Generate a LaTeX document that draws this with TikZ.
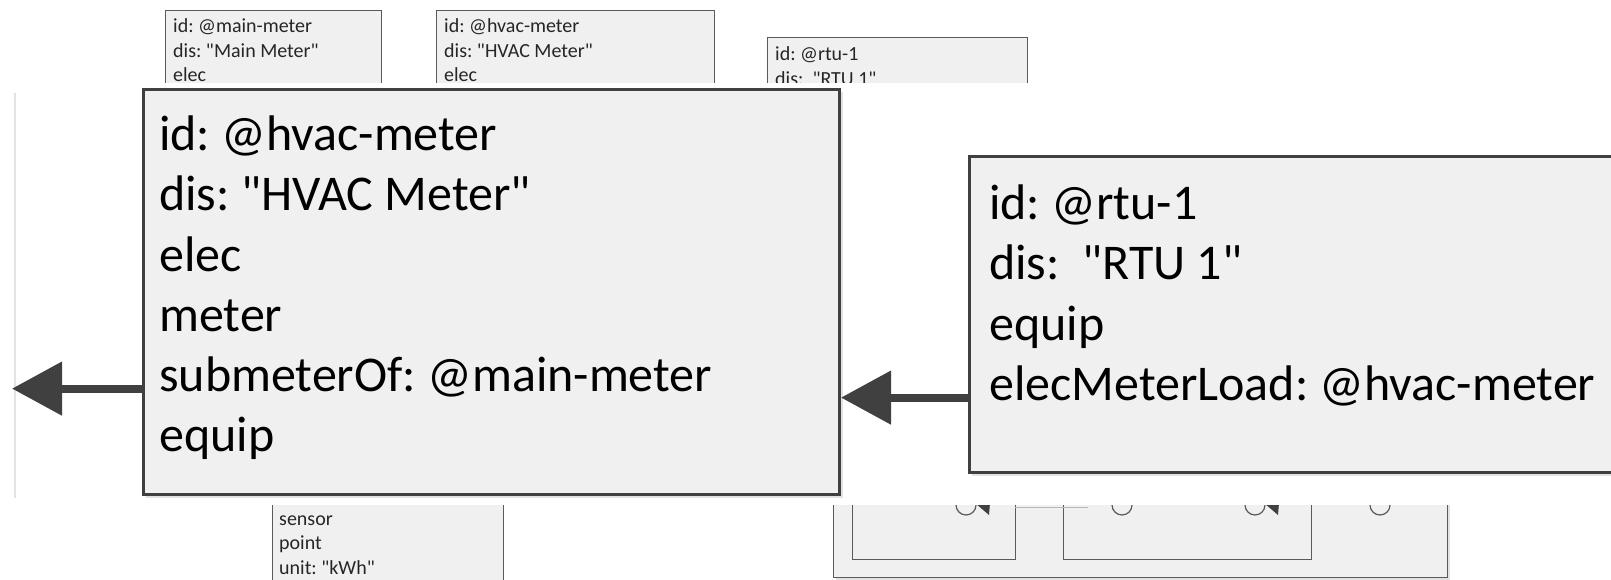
\documentclass[tikz,border=0pt]{standalone}
\usepackage{fontspec}
\setmainfont{Carlito}[Ligatures=TeXOff]
\usetikzlibrary{arrows.meta}
\definecolor{boxfill}{HTML}{F0F0F0}
\definecolor{bigline}{HTML}{404040}
\definecolor{boxline}{HTML}{5A5A5A}
\definecolor{shadowc}{HTML}{E2E2E2}
\definecolor{guide}{HTML}{E3E3E3}
\definecolor{faint}{HTML}{B8B8B8}
\tikzset{
  bgbox/.style={draw=boxline, line width=1.2pt, fill=boxfill, inner sep=0pt, anchor=north west},
  bigbox/.style={draw=bigline, line width=3pt, fill=boxfill, inner sep=0pt, anchor=north west},
  bigtxt/.style={font=\fontsize{50}{60}\selectfont\frenchspacing, anchor=base west, inner sep=0pt, text=black},
  smalltxt/.style={font=\fontsize{20}{24}\selectfont\frenchspacing, anchor=base west, inner sep=0pt, text=black!85},
  refarrow/.style={draw=bigline, line width=8pt, -{Triangle[length=50pt,width=52pt]}},
  port/.style={circle, draw=boxline, line width=1.2pt, fill=boxfill, minimum size=20pt, inner sep=0pt},
  porttip/.style={fill=bigline}
}
\begin{document}
\begin{tikzpicture}[x=1pt,y=-1pt]
\clip (0,0) rectangle (1611,580);
\fill[white] (0,0) rectangle (1611,580);

% ---- background diagram (top) ----
\node[bgbox, minimum width=216pt, minimum height=110pt] (mainS) at (165,10) {};
\node[smalltxt] (mainS1) at (173,33) {id: @main-meter};
\node[smalltxt] (mainS2) at (173,57.5) {dis: "Main Meter"};
\node[smalltxt] (mainS3) at (173,82) {elec};

\node[bgbox, minimum width=278pt, minimum height=110pt] (hvacS) at (436,10) {};
\node[smalltxt] (hvacS1) at (444,33) {id: @hvac-meter};
\node[smalltxt] (hvacS2) at (444,57.5) {dis: "HVAC Meter"};
\node[smalltxt] (hvacS3) at (444,82) {elec};

\node[bgbox, minimum width=260pt, minimum height=90pt] (rtuS) at (767,37) {};
\node[smalltxt] (rtuS1) at (775,61) {id: @rtu-1};
\node[smalltxt] (rtuS2) at (775,85.5) {dis:\ \ "RTU 1"};

% ---- background diagram (bottom) ----
\node[bgbox, minimum width=231pt, minimum height=150pt] (sensS) at (272,480) {};
\node[smalltxt] (sensS1) at (279,525) {sensor};
\node[smalltxt] (sensS2) at (279,549.5) {point};
\node[smalltxt] (sensS3) at (279,574) {unit: "kWh"};

\fill[shadowc] (836,473) rectangle (1450,580);
\node[bgbox, minimum width=614pt, minimum height=107pt] (outerS) at (833,470) {};
\node[bgbox, minimum width=163pt, minimum height=89pt] (innerA) at (852,470) {};
\node[bgbox, minimum width=248pt, minimum height=89pt] (innerB) at (1063,470) {};
\draw[faint, line width=1pt] (1015,507) -- (1088,507);
\node[port] (p1) at (966,505) {};
\node[port] (p2) at (1122,505) {};
\node[port] (p3) at (1255,505) {};
\node[port] (p4) at (1380,505) {};
\fill[porttip] (975,503) -- (990,503) -- (989,515) -- cycle;
\fill[porttip] (1264,503) -- (1279,503) -- (1278,515) -- cycle;

% ---- magnified overlay ----
\fill[white] (0,83) rectangle (1611,505);
\draw[guide, line width=2pt] (15,93) -- (15,498);

\fill[shadowc] (146,92) rectangle (843,498);
\node[bigbox, minimum width=696pt, minimum height=405pt] (hvac) at (142,88) {};
\node[bigtxt] (h1) at (159,151) {id: @hvac-meter};
\node[bigtxt] (h2) at (159,211) {dis: "HVAC Meter"};
\node[bigtxt] (h3) at (159,271) {elec};
\node[bigtxt] (h4) at (159,331) {meter};
\node[bigtxt] (sub) at (159,391) {submeterOf: @main-meter};
\node[bigtxt] (h6) at (159,451) {equip};

\fill[shadowc] (972,159) rectangle (1680,476);
\node[bigbox, minimum width=700pt, minimum height=316pt] (rtu) at (968,155) {};
\node[bigtxt] (r1) at (989,219) {id: @rtu-1};
\node[bigtxt] (r2) at (989,279) {dis:\ \ "RTU 1"};
\node[bigtxt] (r3) at (989,340) {equip};
\node[bigtxt] (load) at (989,400) {elecMeterLoad: @hvac-meter};

\coordinate (leftend) at (12,0);
\draw[refarrow] (sub.mid west -| hvac.west) -- (sub.mid west -| leftend);
\draw[refarrow] (load.mid west -| rtu.west) -- (load.mid west -| hvac.east);
\end{tikzpicture}
\end{document}
